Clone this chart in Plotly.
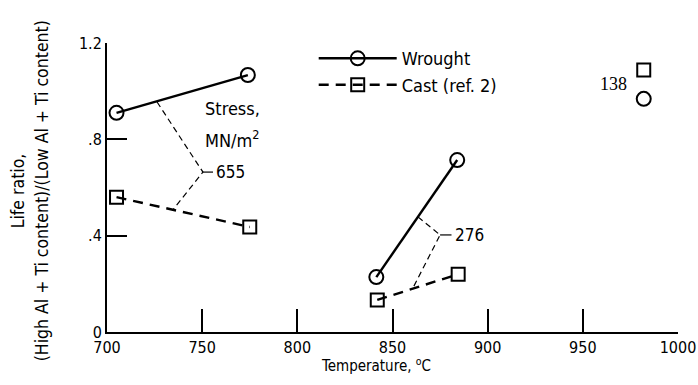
import plotly.graph_objects as go

FONT = "DejaVu Sans Condensed, Liberation Sans Narrow, sans-serif"

# Data (temperature in deg C, life ratio)
wrought_655_t = [705, 774]
wrought_655_r = [0.91, 1.067]
cast_655_t = [705, 775]
cast_655_r = [0.56, 0.436]
wrought_276_t = [841.5, 884]
wrought_276_r = [0.228, 0.714]
cast_276_t = [842, 884.5]
cast_276_r = [0.133, 0.24]
wrought_138_t = [982]
wrought_138_r = [0.968]
cast_138_t = [982]
cast_138_r = [1.088]

# Stress label leaders: [point on wrought line, vertex, point on cast line], tick end
lead_655_t = [726.3, 750.4, 734.7]
lead_655_r = [0.955, 0.664, 0.508]
lead_655_end = 755.7
lead_276_t = [863.4, 875.0, 860.3]
lead_276_r = [0.478, 0.403, 0.176]
lead_276_end = 881.0

x_ticks = [700, 750, 800, 850, 900, 950, 1000]
y_ticks = [0, 0.4, 0.8, 1.2]
y_tick_text = ["0", ".4", ".8", "1.2"]

circle = dict(symbol="circle-open", size=14, color="black", line=dict(width=2))
square = dict(symbol="square-open", size=13, color="black", line=dict(width=2))

fig = go.Figure()
fig.add_trace(go.Scatter(x=wrought_655_t, y=wrought_655_r, mode="lines+markers",
                         line=dict(color="black", width=2.4), marker=circle,
                         name="Wrought", showlegend=True))
fig.add_trace(go.Scatter(x=cast_655_t, y=cast_655_r, mode="lines+markers",
                         line=dict(color="black", width=2.4, dash="10px,7px"), marker=square,
                         name="Cast (ref. 2)", showlegend=True))
fig.add_trace(go.Scatter(x=wrought_276_t, y=wrought_276_r, mode="lines+markers",
                         line=dict(color="black", width=2.4), marker=circle, showlegend=False))
fig.add_trace(go.Scatter(x=cast_276_t, y=cast_276_r, mode="lines+markers",
                         line=dict(color="black", width=2.4, dash="10px,7px"), marker=square, showlegend=False))
fig.add_trace(go.Scatter(x=wrought_138_t, y=wrought_138_r, mode="markers",
                         marker=circle, showlegend=False))
fig.add_trace(go.Scatter(x=cast_138_t, y=cast_138_r, mode="markers",
                         marker=square, showlegend=False))

# leader lines
for lt, lr, end in [(lead_655_t, lead_655_r, lead_655_end), (lead_276_t, lead_276_r, lead_276_end)]:
    fig.add_trace(go.Scatter(x=lt, y=lr, mode="lines", line=dict(color="black", width=1.2, dash="6px,4px"),
                             showlegend=False, hoverinfo="skip"))
    fig.add_trace(go.Scatter(x=[lt[1], end], y=[lr[1], lr[1]], mode="lines",
                             line=dict(color="black", width=1.2), showlegend=False, hoverinfo="skip"))

annotations = [
    dict(x=lead_655_end, y=lead_655_r[1], text="655", xanchor="left", yanchor="middle", xref="x", yref="y",
         showarrow=False, xshift=1, font=dict(size=17)),
    dict(x=lead_276_end, y=lead_276_r[1], text="276", xanchor="left", yanchor="middle", xref="x", yref="y",
         showarrow=False, xshift=1, font=dict(size=17)),
    dict(x=cast_138_t[0], y=(cast_138_r[0] + wrought_138_r[0]) / 2, text="138", xanchor="right", yanchor="middle",
         xref="x", yref="y", showarrow=False, xshift=-15, font=dict(size=18, family="Liberation Serif")),
    dict(x=750.5, y=0.93, text="Stress,", xanchor="left", yanchor="middle", align="left",
         xref="x", yref="y", showarrow=False, font=dict(size=18)),
    dict(x=750.5, y=0.80, text="MN/m<sup>2</sup>", xanchor="left", yanchor="middle", align="left",
         xref="x", yref="y", showarrow=False, font=dict(size=18)),
    dict(x=0.471, y=-0.115, xref="paper", yref="paper", text="Temperature, <sup>o</sup>C", showarrow=False,
         xanchor="center", yanchor="middle", font=dict(size=15)),
    dict(x=-0.156, y=0.49, xref="paper", yref="paper", text="Life ratio,", showarrow=False, textangle=-90,
         xanchor="center", yanchor="middle", font=dict(size=17.5)),
    dict(x=-0.114, y=0.49, xref="paper", yref="paper",
         text="(High Al + Ti content)/(Low Al + Ti content)", showarrow=False, textangle=-90,
         xanchor="center", yanchor="middle", font=dict(size=17.5)),
]

fig.update_layout(
    width=698, height=385,
    margin=dict(l=107, r=20, t=43, b=53, autoexpand=False),
    paper_bgcolor="white", plot_bgcolor="white",
    font=dict(family=FONT, size=16, color="black"),
    annotations=annotations,
    showlegend=True,
    legend=dict(x=0.362, y=1.01, xanchor="left", yanchor="top", bgcolor="rgba(0,0,0,0)",
                itemwidth=78, font=dict(size=18), tracegroupgap=0),
    xaxis=dict(range=[700, 1000], tickvals=x_ticks, ticks="inside", ticklen=23, tickwidth=2,
               tickcolor="black", showline=True, linecolor="black", linewidth=2, showgrid=False,
               zeroline=False, tickfont=dict(size=16), automargin=False),
    yaxis=dict(range=[0, 1.2], tickvals=y_ticks, ticktext=y_tick_text, ticks="inside", ticklen=20,
               tickwidth=2, tickcolor="black", showline=True, linecolor="black", linewidth=2,
               showgrid=False, zeroline=False, tickfont=dict(size=16), automargin=False),
)

fig.write_html("out.html")
